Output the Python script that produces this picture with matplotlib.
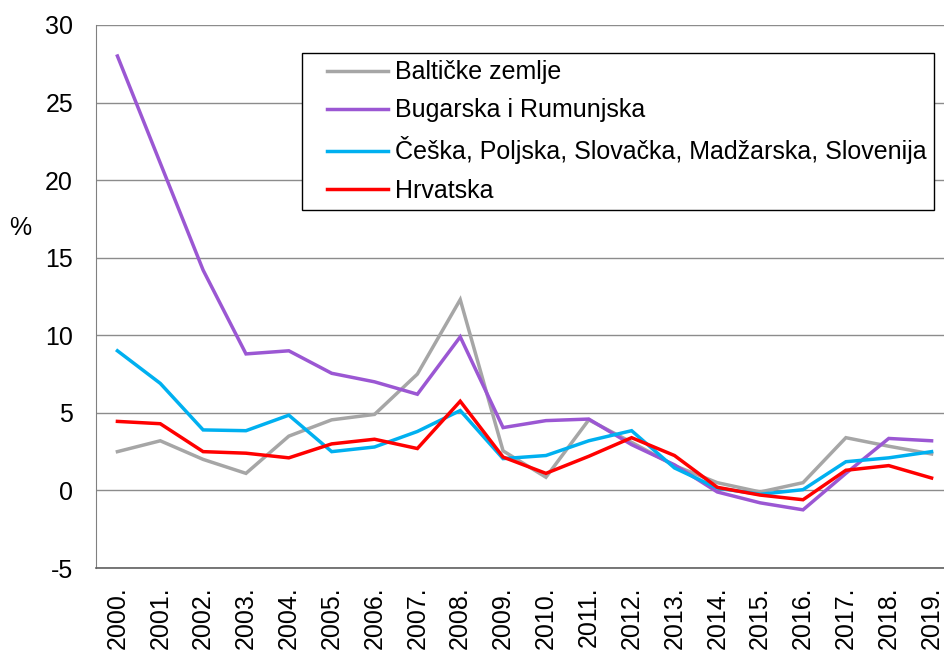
import matplotlib.pyplot as plt
from matplotlib.legend_handler import HandlerLine2D

plt.rcParams['font.family'] = ['Liberation Sans', 'DejaVu Sans']
plt.rcParams['axes.unicode_minus'] = False

years = [f"{y}." for y in range(2000, 2020)]

baltic = [2.5, 3.2, 2.0, 1.1, 3.5, 4.55, 4.9, 7.5, 12.3, 2.55,
          0.85, 4.55, 3.1, 1.6, 0.5, -0.1, 0.5, 3.4, 2.85, 2.35]
bg_ro = [28.0, 21.1, 14.2, 8.8, 9.0, 7.55, 7.0, 6.2, 9.9, 4.05,
         4.5, 4.6, 2.95, 1.65, -0.1, -0.8, -1.25, 1.1, 3.35, 3.2]
cee = [9.0, 6.9, 3.9, 3.85, 4.85, 2.5, 2.8, 3.8, 5.15, 2.05,
       2.25, 3.2, 3.85, 1.45, 0.15, -0.25, 0.05, 1.85, 2.1, 2.5]
croatia = [4.45, 4.3, 2.5, 2.4, 2.1, 3.0, 3.3, 2.7, 5.75, 2.15,
           1.1, 2.2, 3.4, 2.25, 0.2, -0.3, -0.6, 1.3, 1.6, 0.8]

labels = ["Baltičke zemlje", "Bugarska i Rumunjska",
          "Češka, Poljska, Slovačka, Madžarska, Slovenija", "Hrvatska"]
colors = ["#A6A6A6", "#9B57D3", "#00B0F0", "#FF0000"]

FS = 18

fig = plt.figure(figsize=(9.44, 6.57), dpi=100)
ax = fig.add_axes([96 / 944, 1 - 568 / 657, 857 / 944, 543 / 657])

x = range(len(years))
for data, lab, col in zip([baltic, bg_ro, cee, croatia], labels, colors):
    ax.plot(x, data, color=col, lw=2.5, label=lab, solid_joinstyle='miter')

ax.set_xlim(-0.5, len(years) - 0.5)
ax.set_ylim(-5, 30)
ax.set_yticks(range(-5, 31, 5))
ax.set_xticks(list(x))
ax.set_xticklabels(years, rotation=90, fontsize=FS)
ax.tick_params(axis='y', labelsize=FS, length=0, pad=16.5)
ax.tick_params(axis='x', length=0, pad=13)

ax.grid(axis='y', color='#8C8C8C', lw=1)
ax.set_axisbelow(True)
for side in ['top', 'right']:
    ax.spines[side].set_visible(False)
ax.spines['left'].set_color('#808080')
ax.spines['bottom'].set_color('#606060')
ax.spines['bottom'].set_linewidth(1.2)

fig.text(20 / 944, 1 - 228 / 657, "%", fontsize=FS, ha='center', va='center')

# xpad pushes the legend line right, leaving a blank gap before it
leg = ax.legend(loc='upper left', bbox_to_anchor=(302 / 944, 1 - 53 / 657),
                bbox_transform=fig.transFigure, borderaxespad=0, fontsize=FS,
                fancybox=False, edgecolor='black', framealpha=1,
                handlelength=3.14, handletextpad=0.28, labelspacing=0.56,
                borderpad=0.3,
                handler_map={plt.Line2D: HandlerLine2D(xpad=0.7)})
leg.get_frame().set_linewidth(1)

fig.savefig("out.png", dpi=100)
